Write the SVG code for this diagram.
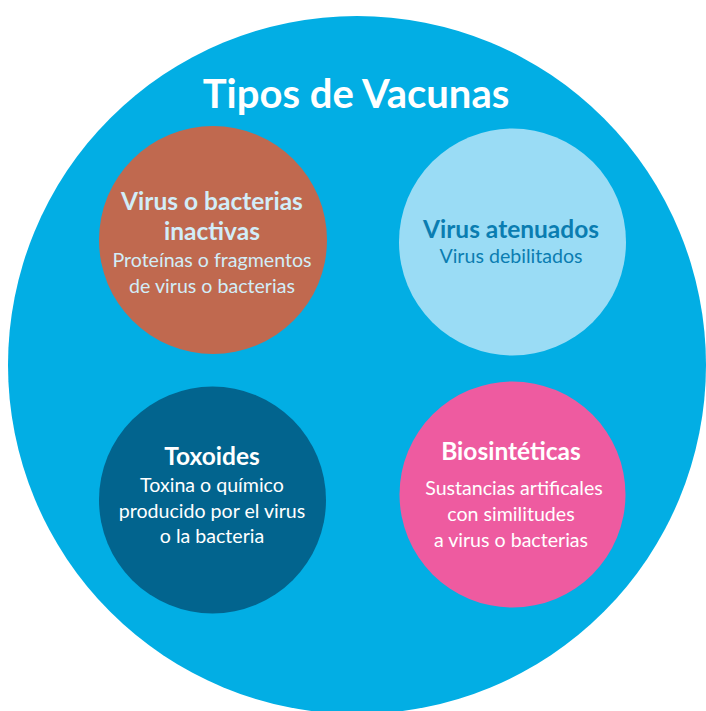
<svg xmlns="http://www.w3.org/2000/svg" width="706" height="711" viewBox="0 0 706 711">
<style>
text{font-family:Lato,"Open Sans","Liberation Sans",sans-serif;text-anchor:middle}
.h{font-weight:bold;font-size:24.5px}
.s{font-size:19.6px}
.lt{fill:#d2edf8}
.w{fill:#ffffff}
.db{fill:#0a7db1}
</style>
<rect width="706" height="711" fill="#ffffff"/>
<g id="main">
<circle cx="357" cy="365" r="349" fill="#02aee4"/>
<text x="356" y="108" class="w" style="font-weight:bold;font-size:40px">Tipos de Vacunas</text>
</g>
<g id="inactivas">
<circle cx="213" cy="240" r="114" fill="#c0694f"/>
<text x="212" y="210" class="h lt">Virus o bacterias</text>
<text x="212" y="240" class="h lt">inactivas</text>
<text x="212" y="267" class="s lt">Proteínas o fragmentos</text>
<text x="212" y="293" class="s lt">de virus o bacterias</text>
</g>
<g id="atenuados">
<circle cx="512.5" cy="242" r="113.5" fill="#9adcf5"/>
<text x="511" y="238" class="h db">Virus atenuados</text>
<text x="511" y="263" class="s db">Virus debilitados</text>
</g>
<g id="toxoides">
<circle cx="212.5" cy="500" r="113.5" fill="#02648e"/>
<text x="212" y="465" class="h w">Toxoides</text>
<text x="212" y="492" class="s w">Toxina o químico</text>
<text x="212" y="518" class="s w">producido por el virus</text>
<text x="212" y="543" class="s w">o la bacteria</text>
</g>
<g id="biosinteticas">
<circle cx="512.5" cy="494.5" r="113" fill="#ee5ba0"/>
<text x="511" y="460" class="h w">Biosintéticas</text>
<text x="514" y="495" class="s w">Sustancias artificales</text>
<text x="511" y="521" class="s w">con similitudes</text>
<text x="511" y="547" class="s w">a virus o bacterias</text>
</g>
<g id="connectors"/>
</svg>
